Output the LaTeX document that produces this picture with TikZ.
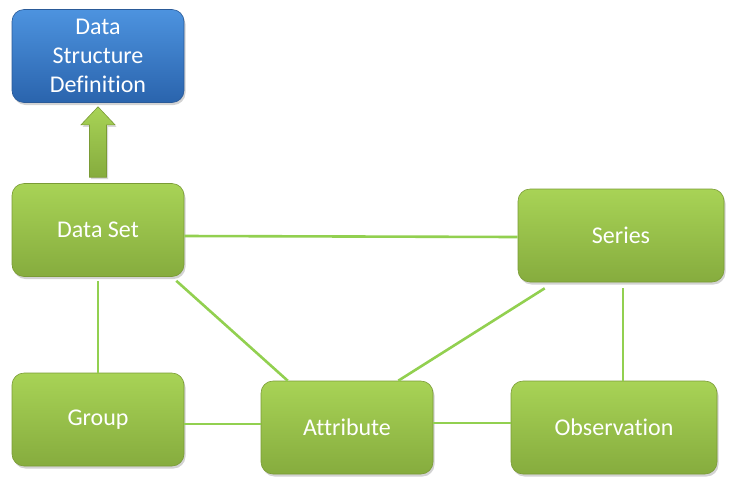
\documentclass[tikz,border=0pt]{standalone}
\usepackage{fontspec}
\setmainfont[Ligatures=NoCommon]{Carlito}
\usetikzlibrary{calc,shadows}
\definecolor{greentop}{HTML}{A8D356}
\definecolor{greenbot}{HTML}{86AC3E}
\definecolor{greenline}{HTML}{7A9B35}
\definecolor{bluetop}{HTML}{4D93DF}
\definecolor{bluebot}{HTML}{2A64AD}
\definecolor{blueline}{HTML}{2A5A98}
\definecolor{link}{HTML}{92D050}
\tikzset{
    box/.style = {
        rounded corners=12pt,
        draw=greenline,
        line width=0.6pt,
        top color=greentop,
        bottom color=greenbot,
        text=white,
        align=center,
        font=\fontsize{24}{29}\selectfont,
        drop shadow={shadow xshift=1.5pt, shadow yshift=-2.5pt, opacity=0.35},
        },
    small box/.style = {
        box,
        minimum width=172pt,
        minimum height=93pt,
        },
    wide box/.style = {
        box,
        minimum width=206pt,
        minimum height=93pt,
        },
    dsd box/.style = {
        small box,
        top color=bluetop,
        bottom color=bluebot,
        draw=blueline,
        },
    link/.style = {
        draw=link,
        line width=2.6pt,
        },
}
\begin{document}
\begin{tikzpicture}[x=1pt, y=-1pt]
            \useasboundingbox (0,0) rectangle (738,488);
            \node[dsd box] (dsd) at (98,56) {Data\\Structure\\Definition};
            \node[small box] (dataset) at (98,230) {Data Set};
            \node[wide box] (series) at (621,235.5) {Series};
            \node[small box] (group) at (98,419.5) {Group};
            \node[small box] (attribute) at (347,427.5) {Attribute};
            \node[wide box] (observation) at (614,427.5) {Observation};

            % links
            \path[link] ([yshift=-6pt]dataset.east) -- ([yshift=-1.5pt]series.west);
            \path[link] ([xshift=-8pt,yshift=-4pt]dataset.south east) -- ([xshift=27pt]attribute.north west);
            \path[link] ([yshift=-4pt]dataset.south) -- (group.north);
            \path[link] ([xshift=27pt,yshift=-6pt]series.south west) -- ([xshift=-35pt]attribute.north east);
            \path[link] ([xshift=2pt,yshift=-6pt]series.south) -- ([xshift=9pt]observation.north);
            \path[link] ([yshift=-4.5pt]group.east) -- ([yshift=3.5pt]attribute.west);
            \path[link] ([yshift=4.5pt]attribute.east) -- ([yshift=4.5pt]observation.west);

            % fat arrow up to the definition
            \coordinate (tail) at ([yshift=6pt]dataset.north);
            \coordinate (tip) at ([yshift=-4pt]dsd.south);
            \shade[top color=greentop, bottom color=greenbot, draw=greenline, line width=0.6pt,
                drop shadow={shadow xshift=1.5pt, shadow yshift=-2pt, opacity=0.3}]
                ($(tail)+(-8.5,0)$) -- ($(tip)+(-8.5,18)$) -- ($(tip)+(-17,18)$) -- (tip)
                -- ($(tip)+(17,18)$) -- ($(tip)+(8.5,18)$) -- ($(tail)+(8.5,0)$) -- cycle;
        \end{tikzpicture}
\end{document}
